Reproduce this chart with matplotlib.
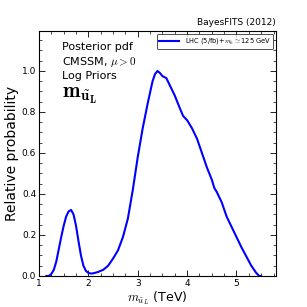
# -*- coding: utf-8 -*-
import numpy as np
import matplotlib
matplotlib.use('Agg')
import matplotlib.pyplot as plt
from matplotlib.ticker import MultipleLocator

plt.rcParams['mathtext.fontset'] = 'cm'

# posterior of m_uL (TeV)
mass = [1.15, 1.2, 1.25, 1.3, 1.35, 1.4, 1.45, 1.5, 1.55, 1.6, 1.65, 1.7, 1.75,
        1.8, 1.85, 1.9, 1.95, 2.0, 2.05, 2.1, 2.2, 2.3, 2.4, 2.5, 2.6, 2.7,
        2.8, 2.9, 3.0, 3.1, 3.2, 3.3, 3.35, 3.4, 3.45, 3.5, 3.58, 3.65, 3.75,
        3.85, 3.92, 4.0, 4.1, 4.2, 4.3, 4.4, 4.5, 4.55, 4.6, 4.7, 4.8, 4.9,
        5.0, 5.1, 5.2, 5.3, 5.4, 5.46, 5.5]
prob = [0.0, 0.0, 0.01, 0.03, 0.07, 0.13, 0.19, 0.245, 0.29, 0.315, 0.322, 0.3,
        0.245, 0.17, 0.1, 0.05, 0.025, 0.015, 0.012, 0.013, 0.02, 0.03, 0.05,
        0.085, 0.125, 0.19, 0.28, 0.42, 0.58, 0.72, 0.84, 0.95, 0.985, 1.0,
        0.99, 0.975, 0.965, 0.93, 0.88, 0.82, 0.78, 0.76, 0.72, 0.67, 0.6,
        0.53, 0.47, 0.43, 0.41, 0.36, 0.29, 0.24, 0.19, 0.14, 0.095, 0.05,
        0.015, 0.0, 0.0]

legend_label = r'LHC (5/fb)+$m_h\simeq$125 GeV'

fig = plt.figure(figsize=(3.07, 3.07), dpi=100)
ax = fig.add_axes([0.127, 0.101, 0.772, 0.798])
ax.plot(mass, prob, color='#0000ff', linewidth=1.5, label=legend_label)

ax.set_xlim(1, 5.8)
ax.set_ylim(0, 1.195)
ax.xaxis.set_major_locator(MultipleLocator(1))
ax.xaxis.set_minor_locator(MultipleLocator(0.25))
ax.yaxis.set_major_locator(MultipleLocator(0.2))
ax.yaxis.set_minor_locator(MultipleLocator(0.05))
ax.tick_params(which='both', direction='in', top=True, right=True, labelsize=6.5, pad=2)
ax.tick_params(which='major', length=4, width=0.6)
ax.tick_params(which='minor', length=2, width=0.5)
for s in ax.spines.values():
    s.set_linewidth(0.8)

ax.set_ylabel('Relative probability', fontsize=10, labelpad=2)
ax.set_xlabel(r'$m_{\tilde{u}_L}$ (TeV)', fontsize=9, labelpad=1)
ax.set_title('BayesFITS (2012)', loc='right', fontsize=6.5, pad=4)

ax.text(0.097, 0.955, 'Posterior pdf\nCMSSM, $\\mu>0$\nLog Priors',
        transform=ax.transAxes, fontsize=8, va='top', ha='left', linespacing=1.25)
ax.text(0.097, 0.735, r'$\mathbf{m_{\tilde{u}_L}}$', transform=ax.transAxes,
        fontsize=15, va='center', ha='left')

leg = ax.legend(loc='upper right', fontsize=4.8, handlelength=3, borderpad=0.4,
                fancybox=True, borderaxespad=0.4)
leg.get_frame().set_edgecolor('black')
leg.get_frame().set_linewidth(0.6)

plt.savefig('out.png', dpi=100)
plt.close()
